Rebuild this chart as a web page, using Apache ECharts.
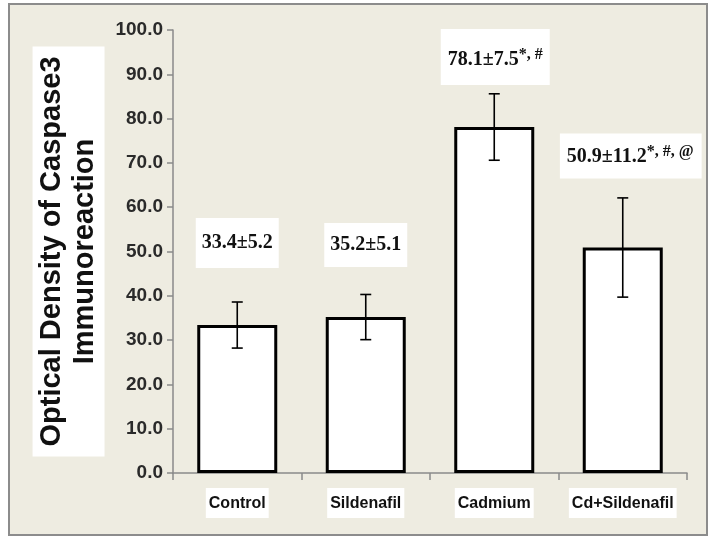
<!DOCTYPE html>
<html>
<head>
<meta charset="utf-8">
<script src="https://cdn.jsdelivr.net/npm/echarts@6/dist/echarts.min.js"></script>
<style>
  html, body { margin: 0; padding: 0; background: #ffffff; }
  #chart { width: 713px; height: 538px; }
</style>
</head>
<body>
<div id="chart"></div>
<script>
// Caspase 3 immunoreaction: mean ± SD per group
const categories = ['Control', 'Sildenafil', 'Cadmium', 'Cd+Sildenafil'];
const means = [33.4, 35.2, 78.1, 50.9];
const sds = [5.2, 5.1, 7.5, 11.2];
const significance = ['', '', '*, #', '*, #, @'];

const yMin = 0, yMax = 100, yStep = 10;

// label box styling per bar (gap above bar, padding, shift)
const labelStyle = [
  { gap: 57, pad: [12, 6, 12, 6], shift: [0, 0] },
  { gap: 50, pad: [9, 6, 9, 6], shift: [0, 0] },
  { gap: 42, pad: [18, 7, 12, 7], shift: [1, 0] },
  { gap: 69, pad: [10, 8, 9, 7], shift: [8, 0] }
];

const chart = echarts.init(document.getElementById('chart'), null, { renderer: 'canvas' });

const barData = means.map((m, i) => ({
  value: m,
  label: {
    show: true,
    position: 'top',
    distance: labelStyle[i].gap,
    offset: labelStyle[i].shift,
    backgroundColor: '#ffffff',
    padding: labelStyle[i].pad,
    formatter: () => significance[i]
      ? '{m|' + m.toFixed(1) + '±' + sds[i].toFixed(1) + '}{s|' + significance[i] + '}'
      : '{m|' + m.toFixed(1) + '±' + sds[i].toFixed(1) + '}',
    rich: {
      m: { fontFamily: 'Liberation Serif', fontWeight: 'bold', fontSize: 20, color: '#111', lineHeight: 26 },
      s: { fontFamily: 'Liberation Serif', fontWeight: 'bold', fontSize: 16, color: '#111', lineHeight: 16, verticalAlign: 'top' }
    }
  }
}));

const option = {
  animation: false,
  backgroundColor: '#ffffff',
  graphic: [{
    type: 'rect',
    z: -10,
    shape: { x: 9, y: 4, width: 698, height: 531 },
    style: { fill: '#EEECE1', stroke: '#8c8c8c', lineWidth: 2 }
  }],
  grid: { left: 173, right: 26, top: 30, bottom: 65 },
  xAxis: {
    type: 'category',
    data: categories,
    boundaryGap: true,
    axisLine: { lineStyle: { color: '#8a8a8a', width: 1.5 } },
    axisTick: { show: true, length: 7, lineStyle: { color: '#8a8a8a', width: 1.5 } },
    axisLabel: {
      interval: 0,
      margin: 15,
      fontFamily: 'Liberation Sans',
      fontWeight: 'bold',
      fontSize: 16,
      color: '#111',
      backgroundColor: '#ffffff',
      padding: [7, 3, 5, 3],
      lineHeight: 18
    }
  },
  yAxis: {
    type: 'value',
    min: yMin,
    max: yMax,
    interval: yStep,
    splitLine: { show: false },
    axisLine: { show: true, lineStyle: { color: '#8a8a8a', width: 1.5 } },
    axisTick: { show: true, length: 6, lineStyle: { color: '#8a8a8a', width: 1.5 } },
    axisLabel: {
      margin: 10,
      fontFamily: 'Liberation Sans',
      fontWeight: 'bold',
      fontSize: 19,
      color: '#2a2a2a',
      formatter: v => v.toFixed(1)
    },
    name: 'Optical Density of Caspase3\nImmunoreaction',
    nameLocation: 'middle',
    nameGap: 68,
    nameRotate: 90,
    nameTextStyle: {
      fontFamily: 'Liberation Sans',
      fontWeight: 'bold',
      fontSize: 29,
      lineHeight: 33,
      color: '#111',
      backgroundColor: '#ffffff',
      padding: [3, 10, 3, 10]
    }
  },
  series: [
    {
      type: 'bar',
      data: barData,
      barWidth: 80,
      itemStyle: { color: '#ffffff', borderColor: '#000000', borderWidth: 3 },
      z: 2
    },
    {
      type: 'custom',
      z: 5,
      data: means.map((m, i) => [i, m, sds[i]]),
      encode: { x: 0, y: 1 },
      renderItem: (params, api) => {
        const i = api.value(0), m = api.value(1), s = api.value(2);
        const top = api.coord([i, m + s]);
        const bot = api.coord([i, m - s]);
        const half = 5.5;
        const st = { stroke: '#000000', lineWidth: 1.6 };
        return {
          type: 'group',
          children: [
            { type: 'line', shape: { x1: top[0], y1: top[1], x2: bot[0], y2: bot[1] }, style: st },
            { type: 'line', shape: { x1: top[0] - half, y1: top[1], x2: top[0] + half, y2: top[1] }, style: st },
            { type: 'line', shape: { x1: bot[0] - half, y1: bot[1], x2: bot[0] + half, y2: bot[1] }, style: st }
          ]
        };
      }
    }
  ]
};

chart.setOption(option);
</script>
</body>
</html>
